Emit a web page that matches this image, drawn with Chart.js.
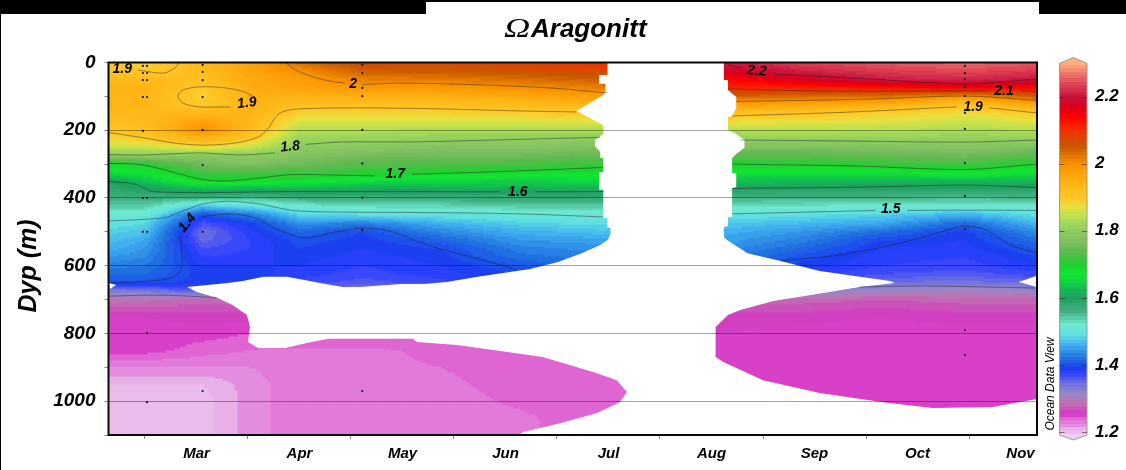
<!DOCTYPE html>
<html><head><meta charset="utf-8">
<style>html,body{margin:0;padding:0;background:#fff}canvas{display:block}</style>
<script src="https://cdn.jsdelivr.net/npm/chart.js@4"></script>
</head><body><canvas id="c" width="1126" height="470"></canvas>
<script>
const monthLabels=['Mar','Apr','May','Jun','Jul','Aug','Sep','Oct','Nov'];
const depthTicks=[0,200,400,600,800,1000];
const stationMonths=[2.65,3.00,3.56,4.02,4.50,5.11,5.86,6.64,7.42,8.63,9.36,10.14,10.96,11.66];
const depthLevels=[0,25,50,75,100,125,150,175,200,225,250,275,300,325,350,375,400,425,450,475,500,525,550,575,600,625,650,675,700,750,800,850,900,950,1000,1050,1100];
const colA=[1.90,1.91,1.93,1.94,1.94,1.94,1.93,1.92,1.905,1.88,1.85,1.79,1.69,1.66,1.60,1.58,1.56,1.54,1.515,1.495,1.48,1.47,1.46,1.445,1.43,1.415,1.40,1.33,1.29,1.255,1.25,1.25,1.225,1.205,1.2,1.2,1.2];
const colB=[1.885,1.895,1.93,1.94,1.94,1.935,1.93,1.925,1.915,1.895,1.85,1.795,1.705,1.67,1.63,1.595,1.565,1.54,1.51,1.485,1.47,1.455,1.445,1.435,1.425,1.415,1.40,1.335,1.29,1.255,1.25,1.25,1.225,1.205,1.2,1.2,1.2];
const colC=[1.93,1.925,1.91,1.90,1.885,1.895,1.935,1.975,2.0,1.94,1.88,1.78,1.76,1.72,1.695,1.62,1.56,1.47,1.40,1.365,1.345,1.35,1.365,1.375,1.385,1.39,1.39,1.36,1.28,1.26,1.25,1.24,1.225,1.205,1.2,1.2,1.2];
const colD=[1.97,1.965,1.96,1.955,1.95,1.945,1.94,1.935,1.93,1.90,1.85,1.795,1.77,1.72,1.69,1.615,1.55,1.49,1.425,1.39,1.38,1.375,1.375,1.38,1.385,1.39,1.39,1.35,1.28,1.26,1.245,1.235,1.225,1.22,1.22,1.22,1.22];
const colE=[2.03,2.0,1.98,1.97,1.945,1.915,1.885,1.86,1.835,1.815,1.795,1.775,1.755,1.72,1.68,1.615,1.565,1.515,1.48,1.44,1.415,1.40,1.395,1.39,1.385,1.38,1.37,1.34,1.29,1.26,1.25,1.232,1.232,1.232,1.232,1.232,1.232];
const colF=[2.07,2.045,2.015,1.985,1.95,1.915,1.885,1.86,1.835,1.81,1.785,1.76,1.735,1.71,1.66,1.605,1.57,1.53,1.49,1.43,1.395,1.39,1.385,1.38,1.375,1.37,1.36,1.34,1.29,1.26,1.25,1.232,1.232,1.232,1.232,1.232,1.232];
const colG=[2.07,2.05,2.02,1.985,1.95,1.915,1.885,1.86,1.83,1.805,1.775,1.755,1.73,1.70,1.65,1.605,1.57,1.53,1.495,1.46,1.435,1.41,1.395,1.39,1.385,1.38,1.37,1.34,1.29,1.26,1.25,1.238,1.235,1.232,1.23,1.23,1.23];
const colH=[2.08,2.06,2.03,2.0,1.96,1.925,1.89,1.86,1.83,1.80,1.78,1.755,1.725,1.69,1.645,1.61,1.575,1.54,1.505,1.48,1.46,1.445,1.43,1.42,1.405,1.395,1.385,1.35,1.29,1.26,1.25,1.242,1.241,1.24,1.237,1.233,1.232];
const colI=[2.10,2.07,2.045,2.015,1.98,1.94,1.90,1.865,1.83,1.80,1.77,1.745,1.715,1.685,1.65,1.61,1.575,1.54,1.51,1.49,1.47,1.45,1.44,1.43,1.42,1.41,1.39,1.35,1.29,1.26,1.25,1.242,1.242,1.242,1.242,1.242,1.242];
const colJ=[2.205,2.175,2.14,2.105,2.04,1.975,1.915,1.875,1.84,1.80,1.77,1.735,1.70,1.665,1.63,1.595,1.56,1.53,1.495,1.475,1.46,1.45,1.44,1.43,1.42,1.41,1.395,1.35,1.28,1.26,1.255,1.25,1.25,1.25,1.25,1.25,1.25];
const colK=[2.235,2.21,2.17,2.115,2.035,1.965,1.905,1.87,1.84,1.805,1.77,1.735,1.705,1.665,1.625,1.59,1.555,1.525,1.49,1.465,1.445,1.43,1.415,1.40,1.39,1.38,1.36,1.32,1.28,1.26,1.25,1.25,1.25,1.25,1.25,1.25,1.25];
const colL=[2.25,2.23,2.205,2.125,2.03,1.95,1.89,1.865,1.835,1.805,1.775,1.745,1.715,1.665,1.62,1.59,1.555,1.515,1.48,1.455,1.42,1.395,1.385,1.38,1.375,1.365,1.345,1.31,1.275,1.255,1.25,1.25,1.25,1.25,1.25,1.25,1.25];
const colM=[2.26,2.24,2.215,2.15,1.995,1.905,1.875,1.85,1.83,1.805,1.78,1.755,1.72,1.68,1.625,1.59,1.55,1.515,1.46,1.415,1.39,1.385,1.38,1.375,1.37,1.36,1.34,1.305,1.28,1.26,1.25,1.25,1.25,1.25,1.25,1.25,1.25];
const colN=[2.25,2.23,2.20,2.13,2.05,1.965,1.895,1.865,1.835,1.805,1.77,1.735,1.70,1.665,1.62,1.59,1.555,1.515,1.49,1.465,1.44,1.42,1.405,1.395,1.385,1.37,1.35,1.31,1.28,1.26,1.25,1.25,1.25,1.25,1.25,1.25,1.25];
const stationColumns=[colA,colB,colC,colD,colE,colF,colG,colH,colI,colJ,colK,colL,colM,colN];

const bandValues=[1.19,1.205,1.21,1.215,1.222,1.232,1.243,1.25,1.26,1.285,1.315,1.345,1.375,1.39,1.42,1.46,1.49,1.52,1.56,1.6,1.63,1.67,1.70,1.74,1.77,1.805,1.84,1.87,1.895,1.935,1.975,2.0,2.05,2.10,2.14,2.17,2.2,2.24,2.27,2.30];
const bandColors=['#f0d0f0','#e8b0e8','#e8b0e8','#e48cdd','#e48cdd','#e075d8','#de60d0','#d840c8','#d040c0','#c070b0','#9888c8','#7070e0','#3040ff','#1c40f0','#2070e0','#40b0f0','#60e0e0','#70e8d0','#40b080','#20a060','#10c050','#10e830','#20d030','#60b850','#80c060','#90d060','#b8e050','#e8e040','#ffc828','#ffb818','#ffa008','#f89000','#c85a00','#f03000','#ff0000','#d8001c','#c8143c','#e04858','#f07868','#ffb080'];

const noDataGap=[[7.49,0],[7.49,37],[7.41,37],[7.41,63],[7.47,63],[7.47,87],[7.45,96],[7.19,143],[7.45,185],[7.45,211],[7.37,229],[7.37,247],[7.42,264],[7.42,282],[7.45,282],[7.45,323],[7.41,323],[7.41,376],[7.45,376],[7.45,459],[7.49,459],[7.49,489],[7.52,489],[7.52,506],[7.49,524],[7.42,539],[7.24,563],[7.01,589],[6.74,610],[6.23,633],[5.93,648],[5.70,654],[5.48,654],[5.09,663],[4.92,663],[4.70,651],[4.38,633],[4.15,633],[3.95,645],[3.80,651],[3.41,663],[3.50,678],[3.70,695],[3.85,716],[3.99,746],[4.02,781],[4.00,825],[4.10,843],[4.36,843],[4.57,828],[4.78,816],[5.60,816],[5.64,825],[6.03,834],[6.45,852],[6.86,870],[7.35,914],[7.58,938],[7.68,973],[7.61,1003],[7.39,1035],[7.03,1065],[6.67,1091],[6.64,1100],[11.66,1100],[11.66,994],[11.23,1017],[10.65,1020],[10.20,1005],[9.55,976],[9.00,938],[8.61,884],[8.54,870],[8.54,781],[8.66,746],[8.78,731],[9.10,704],[9.39,690],[9.82,669],[9.94,663],[10.28,651],[10.23,645],[9.94,633],[9.55,616],[9.17,586],[8.85,563],[8.65,524],[8.62,515],[8.62,486],[8.66,483],[8.66,456],[8.70,456],[8.70,371],[8.74,368],[8.74,326],[8.70,326],[8.70,282],[8.74,270],[8.82,252],[8.82,229],[8.74,211],[8.66,199],[8.66,161],[8.70,158],[8.74,134],[8.74,102],[8.66,81],[8.66,52],[8.62,52],[8.62,0]];
const noDataRight=[[11.66,630],[11.48,648],[11.66,663]];
const noDataLeft=[[2.65,651],[2.72,657],[2.66,669]];
const noDataAreas=[noDataGap,noDataRight,noDataLeft];

const c19a=[[2.93,22],[3.05,28],[3.19,31],[3.29,16],[3.33,1]];
const c19b=[[3.83,131],[3.53,131],[3.37,120],[3.32,99],[3.37,81],[3.53,72],[3.78,75],[3.97,87],[4.04,99]];
const c19c=[[2.65,207],[3.0,223],[3.29,238],[3.56,244],[3.87,238],[4.10,220],[4.20,193],[4.26,164],[4.33,146],[4.50,137],[5.11,134],[5.86,137],[6.64,143],[7.19,146]];
const c19d=[[8.70,158],[9.87,146],[10.88,131]];
const c19e=[[11.20,134],[11.66,149]];
const c20a=[[4.37,0],[4.43,16],[4.55,34],[4.75,52],[4.94,61]];
const c20b=[[5.11,65],[5.48,61],[6.25,66],[6.93,75],[7.49,90]];
const c20c=[[8.74,115],[10.04,108],[10.96,99],[11.66,112]];
const c21a=[[8.66,78],[9.55,84],[11.20,84]];
const c21b=[[11.50,84],[11.66,86]];
const c22a=[[8.66,7],[8.78,16]];
const c22b=[[9.10,34],[10.04,49],[10.96,63],[11.66,49]];
const c18a=[[2.65,272],[3,273],[3.53,267],[3.92,273],[4.26,267]];
const c18b=[[4.56,242],[4.89,235],[5.67,234],[6.64,227],[7.42,221]];
const c18c=[[8.78,229],[9.84,232],[10.96,235],[11.66,229]];
const c17a=[[2.65,298],[2.95,301],[3.19,317],[3.53,344],[3.78,350],[4.12,341],[4.41,331],[4.80,332],[5.23,335]];
const c17b=[[5.59,330],[6.45,322],[7.45,310]];
const c17c=[[8.70,300],[9.94,306],[10.96,316],[11.66,300]];
const c16a=[[2.65,351],[2.90,359],[3.10,382],[4.50,381],[6.45,382]];
const c16b=[[6.79,382],[7.45,381]];
const c16c=[[8.70,372],[9.94,368],[10.96,362],[11.66,369]];
const c15a=[[2.65,468],[3.19,458],[3.39,436],[3.58,416],[3.83,410],[4.12,418],[4.41,436],[4.70,441],[5.67,443],[6.64,447],[7.45,456]];
const c15b=[[8.70,447],[10.09,437]];
const c15c=[[10.40,437],[10.96,436],[11.66,437]];
const c14a=[[2.65,651],[3.05,645],[3.26,636],[3.35,613],[3.36,568],[3.34,512]];
const c14b=[[3.55,455],[3.83,447],[4.07,459],[4.26,489],[4.55,518],[4.84,501],[5.11,489],[5.38,498],[5.77,542],[6.35,589],[6.61,613]];
const c14c=[[9.18,586],[9.72,569],[10.26,539],[10.79,495],[10.96,483],[11.17,495],[11.40,539],[11.66,563]];
const c13a=[[2.65,690],[3.05,687],[3.44,690],[3.70,695]];
const c13b=[[9.94,663],[10.52,660],[11.17,663],[11.64,666]];
const contourLines=[c19a,c19b,c19c,c19d,c19e,c20a,c20b,c20c,c21a,c21b,c22a,c22b,c18a,c18b,c18c,c17a,c17b,c17c,c16a,c16b,c16c,c15a,c15b,c15c,c14a,c14b,c14c,c13a,c13b];

const contourLabelText=['1.9','1.9','2','1.8','1.7','1.6','1.5','1.4','2.2','2.1','1.9'];
const contourLabelMonth=[2.78,3.99,5.02,4.41,5.43,6.62,10.24,3.41,8.94,11.34,11.04];
const contourLabelDepth=[19,120,63,249,331,382,433,474,25,84,131];
const contourLabelTilt=[0,-8,0,-5,0,0,0,-50,5,0,0];

const sampleMonths=[2.98,3.02,2.98,3.02,2.98,3.02,2.98,3.02,2.98,2.98,3.02,2.98,3.02,3.02,3.02,3.38,3.56,3.56,3.56,3.56,3.56,3.56,3.56,3.56,5.11,5.11,5.11,5.11,5.11,5.11,5.11,5.11,5.11,10.96,10.96,10.96,10.96,10.96,10.96,10.96,10.96,10.96,10.96,10.96,10.96];
const sampleDepths=[10,10,31,31,52,52,102,102,202,400,400,500,500,799,1003,498,7,28,52,102,199,303,500,970,7,31,75,99,199,298,399,495,970,10,31,49,72,99,149,196,297,394,492,790,864];

const FONT='"Liberation Sans"';
const axisMin=2.646, axisMax=11.66, depthMax=1100;
const toPts=a=>a.map(p=>({x:p[0],y:p[1]}));

function hexRgb(h){return [parseInt(h.slice(1,3),16),parseInt(h.slice(3,5),16),parseInt(h.slice(5,7),16)];}
const bandRgb=bandColors.map(hexRgb);
function colourFor(v){
  const q=Math.round(v*100)/100;
  if(q<=bandValues[0])return bandColors[0];
  for(let i=1;i<bandValues.length;i++){
    if(q<=bandValues[i]){
      const t=(q-bandValues[i-1])/(bandValues[i]-bandValues[i-1]);
      const a=bandRgb[i-1],b=bandRgb[i];
      return 'rgb('+Math.round(a[0]+(b[0]-a[0])*t)+','+Math.round(a[1]+(b[1]-a[1])*t)+','+Math.round(a[2]+(b[2]-a[2])*t)+')';
    }
  }
  return bandColors[bandColors.length-1];
}
function bracket(arr,v){
  let i=0;
  while(i<arr.length-2&&v>arr[i+1])i++;
  let t=(v-arr[i])/(arr[i+1]-arr[i]);
  return [i,Math.max(0,Math.min(1,t))];
}
function fieldAt(m,d){
  const [i,tx]=bracket(stationMonths,m),[j,ty]=bracket(depthLevels,d);
  const A=stationColumns[i],B=stationColumns[i+1];
  return (A[j]*(1-ty)+A[j+1]*ty)*(1-tx)+(B[j]*(1-ty)+B[j+1]*ty)*tx;
}
function noPad(s){s.paddingTop=0;s.paddingBottom=0;s.paddingLeft=0;s.paddingRight=0;}

const fieldPlugin={
  id:'field',
  beforeDraw(ch){
    const g=ch.ctx;
    g.save();
    g.fillStyle='#fff';g.fillRect(0,0,ch.width,ch.height);
    g.fillStyle='#000';
    g.fillRect(0,0,426,14);g.fillRect(426,0,613,2);g.fillRect(1039,0,87,14);g.fillRect(0,0,1,470);
    g.restore();
  },
  beforeDatasetsDraw(ch){
    const g=ch.ctx,a=ch.chartArea,X=ch.scales.x,Y=ch.scales.y;
    g.save();
    g.beginPath();g.rect(a.left,a.top,a.width,a.height);g.clip();
    const sx=3,sy=2;
    for(let px=a.left;px<a.right;px+=sx){
      const m=X.getValueForPixel(px+sx/2);
      for(let py=a.top;py<a.bottom;py+=sy){
        const d=Y.getValueForPixel(py+sy/2);
        g.fillStyle=colourFor(fieldAt(m,d));
        g.fillRect(px,py,sx+0.5,sy+0.5);
      }
    }
    g.fillStyle='#fff';
    noDataAreas.forEach(poly=>{
      g.beginPath();
      poly.forEach((p,i)=>{
        const x=X.getPixelForValue(p[0]),y=Y.getPixelForValue(p[1]);
        i?g.lineTo(x,y):g.moveTo(x,y);
      });
      g.closePath();g.fill();
    });
    g.restore();
  },
  afterDraw(ch){
    const g=ch.ctx,a=ch.chartArea,X=ch.scales.x,Y=ch.scales.y,C=ch.scales.c;
    g.save();
    g.fillStyle='#000';g.textAlign='center';g.textBaseline='middle';
    g.font='italic bold 14px '+FONT;
    contourLabelText.forEach((t,i)=>{
      g.save();
      g.translate(X.getPixelForValue(contourLabelMonth[i]),Y.getPixelForValue(contourLabelDepth[i]));
      g.rotate(contourLabelTilt[i]*Math.PI/180);
      g.fillText(t,0,0);
      g.restore();
    });
    g.strokeStyle='#0a0a0a';g.lineWidth=2;
    g.strokeRect(a.left,a.top,a.width,a.height);
    const L=1059.5,R=1087,M=(L+R)/2,topY=C.getPixelForValue(2.302),botY=C.getPixelForValue(1.191);
    g.beginPath();
    g.moveTo(L,topY+1);g.lineTo(M,topY-5);g.lineTo(R,topY+1);
    g.lineTo(R,botY);g.lineTo(M,botY+5);g.lineTo(L,botY);g.closePath();
    g.save();g.clip();
    for(let py=Math.floor(topY)-6;py<botY+7;py+=1){
      g.fillStyle=colourFor(C.getValueForPixel(py+0.5));
      g.fillRect(L-1,py,R-L+2,1.5);
    }
    g.restore();
    g.strokeStyle='#a09a90';g.lineWidth=1;g.stroke();
    g.strokeStyle='rgba(60,20,20,.55)';
    C.ticks.forEach(t=>{
      const y=Math.round(C.getPixelForValue(t.value))+0.5;
      g.beginPath();g.moveTo(L,y);g.lineTo(L+5,y);g.moveTo(R-5,y);g.lineTo(R,y);g.stroke();
    });
    g.fillStyle='#000';g.textBaseline='alphabetic';g.textAlign='left';
    g.save();
    g.translate(504,37);g.scale(1.3,1);
    g.font='italic 28px "Liberation Serif"';
    g.fillText('\u03A9',0,0);
    g.restore();
    g.font='italic bold 26px '+FONT;
    g.fillText('Aragonitt',531,37);
    g.save();
    g.translate(36,266);g.rotate(-Math.PI/2);g.textAlign='center';
    g.font='italic bold 25px '+FONT;g.fillText('Dyp (m)',0,0);
    g.restore();
    g.save();
    g.translate(1054,384);g.rotate(-Math.PI/2);g.textAlign='center';
    g.font='italic 12px '+FONT;g.fillText('Ocean Data View',0,0);
    g.restore();
    g.restore();
  }
};

const contourSets=contourLines.map((l,i)=>({
  label:'contour '+i,data:toPts(l),showLine:true,pointRadius:0,borderWidth:0.8,
  borderColor:'rgba(25,30,25,.55)',backgroundColor:'transparent',tension:0.3,fill:false
}));
const sampleSet={label:'samples',data:sampleMonths.map((m,i)=>({x:m,y:sampleDepths[i]})),showLine:false,
  pointRadius:1.1,pointBorderWidth:0,backgroundColor:'#111'};

const labelFont={family:FONT,style:'italic',weight:'bold'};
new Chart(document.getElementById('c'),{
  type:'scatter',
  data:{datasets:[...contourSets,sampleSet]},
  plugins:[fieldPlugin],
  options:{
    responsive:false,animation:false,events:[],
    layout:{padding:{top:62.5,left:0,right:0,bottom:0}},
    plugins:{legend:{display:false},tooltip:{enabled:false},title:{display:false}},
    scales:{
      x:{type:'linear',position:'bottom',min:axisMin,max:axisMax,
        afterFit(s){s.height=6;noPad(s);},
        afterBuildTicks(s){s.ticks=monthLabels.map((_,i)=>({value:3+i}));},
        ticks:{display:true,autoSkip:false,maxRotation:0,callback:()=>'',font:{size:1},padding:0},
        grid:{drawOnChartArea:false,drawTicks:true,tickLength:4,tickColor:'#888',z:1},
        border:{display:false}},
      x2:{type:'linear',axis:'x',position:'bottom',min:axisMin,max:axisMax,
        afterFit(s){s.height=29;noPad(s);},
        afterBuildTicks(s){s.ticks=monthLabels.map((_,i)=>({value:3.5+i}));},
        ticks:{autoSkip:false,maxRotation:0,padding:4,color:'#000',
          font:{...labelFont,size:15},
          callback:v=>monthLabels[Math.round(v-3.5)]},
        grid:{display:false,drawTicks:false},border:{display:false}},
      y:{type:'linear',position:'left',reverse:true,min:0,max:depthMax,
        afterFit(s){s.width=108.5;noPad(s);},
        afterBuildTicks(s){s.ticks=[];for(let v=0;v<=depthMax;v+=100)s.ticks.push({value:v});},
        ticks:{autoSkip:false,padding:9,color:'#000',font:{...labelFont,size:19},
          callback:v=>depthTicks.includes(v)?String(v):''},
        grid:{z:1,tickLength:4,tickColor:'#888',
          color:c=>(c.tick&&c.tick.value>0&&c.tick.value%200===0)?'rgba(0,0,0,.36)':'rgba(0,0,0,0)',lineWidth:1},
        border:{display:false}},
      c:{type:'linear',axis:'y',position:'right',min:1.191,max:2.302,
        afterFit(s){s.width=89;noPad(s);},
        afterBuildTicks(s){s.ticks=[1.2,1.4,1.6,1.8,2.0,2.2].map(v=>({value:v}));},
        ticks:{autoSkip:false,padding:58,color:'#000',font:{...labelFont,size:17},
          callback:v=>String(+v.toFixed(1))},
        grid:{display:false,drawTicks:false},border:{display:false}}
    }
  }
});
</script></body></html>
